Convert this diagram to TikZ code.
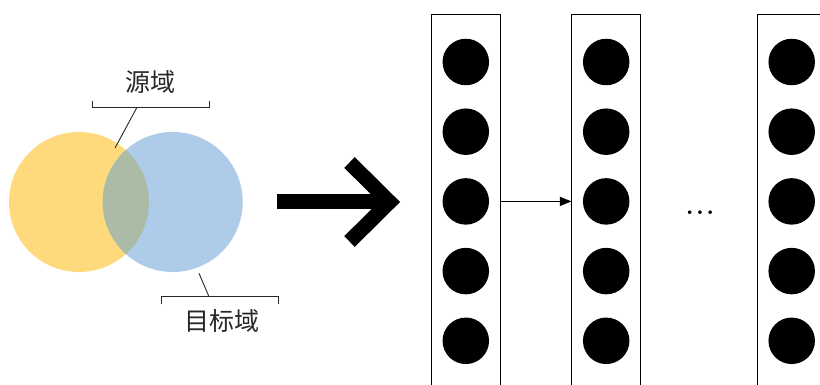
\documentclass[tikz,border=0pt]{standalone}
\usepackage{fontspec}
\newfontfamily\cjk{Noto Sans CJK SC}
\usetikzlibrary{arrows.meta}
\definecolor{ylw}{RGB}{255,218,125}
\definecolor{blu}{RGB}{174,204,233}
\definecolor{ovl}{RGB}{171,187,165}
\definecolor{ink}{RGB}{40,40,40}
\tikzset{
  domcirc/.style={circle, inner sep=0, minimum size=140},
  lbltext/.style={font=\cjk\fontsize{25}{25}\selectfont, inner sep=0, text=ink},
  brkline/.style={draw=ink, line width=0.9},
  layerbox/.style={draw=black, line width=1, rectangle, inner sep=0, minimum width=68.5, minimum height=386},
  neuron/.style={circle, fill=black, inner sep=0, minimum size=46.5},
  bigarrow/.style={line width=15, draw=black},
}
\begin{document}
\begin{tikzpicture}[x=1pt,y=-1pt]
\clip (0,0) rectangle (820,385);
\fill[white] (0,0) rectangle (820,385);
% domains
\node[domcirc, fill=ylw] (src) at (79,202) {};
\node[domcirc, fill=blu] (tgt) at (172.7,202) {};
\begin{scope}
  \clip (79,202) circle[radius=70];
  \fill[ovl] (172.7,202) circle[radius=70];
\end{scope}
% labels and brackets
\node[lbltext] (srclbl) at (150,82) {源域};
\node[lbltext] (tgtlbl) at (221.7,321) {目标域};
\coordinate (tb1) at (92,101);
\coordinate (tb2) at (209.3,101);
\coordinate (tbm) at (137,107.3);
\coordinate (tbe) at (115,148);
\draw[brkline] (tb1) -- (tb1 |- tbm) -- (tb2 |- tbm) -- (tb2);
\draw[brkline] (tbm) -- (tbe);
\coordinate (bb1) at (161,304);
\coordinate (bb2) at (278.3,304);
\coordinate (bbm) at (209,296.7);
\coordinate (bbe) at (199,273.3);
\draw[brkline] (bb1) -- (bb1 |- bbm) -- (bb2 |- bbm) -- (bb2);
\draw[brkline] (bbm) -- (bbe);
% big arrow
\coordinate (as) at (277,202);
\coordinate (ae) at (385,202);
\coordinate (au) at (349.5,162.5);
\coordinate (at) at (389.4,202);
\coordinate (ad) at (349.5,241.5);
\draw[bigarrow] (as) -- (ae);
\draw[bigarrow, miter limit=4] (au) -- (at) -- (ad);
% layers
\node[layerbox] (col1) at (465.8,207.3) {};
\node[layerbox] (col2) at (606.2,207.3) {};
\node[layerbox] (col3) at (791.7,207.3) {};
\foreach \c/\x in {1/465.8, 2/606.2, 3/791.7}{
  \foreach \k in {0,...,4}{
    \node[neuron] (n\c\k) at (\x,62+69.7*\k) {};
  }
}
\draw[line width=1, -{Triangle[length=11.5pt,width=9pt]}] (col1.east |- n12) -- (col2.west |- n12);
\node[inner sep=0, anchor=base, font=\bfseries\fontsize{25}{25}\selectfont] (dots) at (700,214.5) {.\kern0.1em.\kern0.1em.};
\end{tikzpicture}
\end{document}
